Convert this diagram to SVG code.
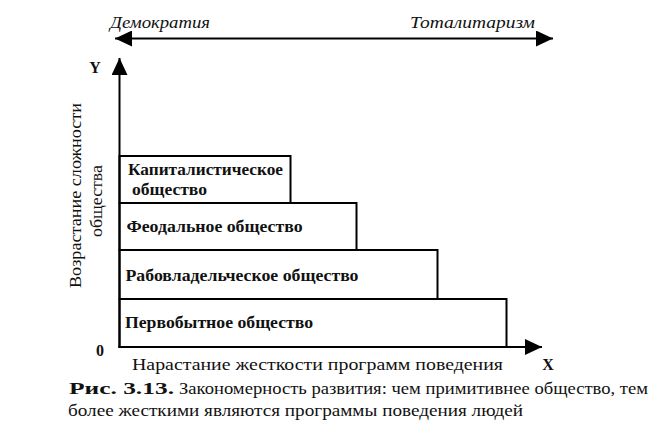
<svg xmlns="http://www.w3.org/2000/svg" width="652" height="427" viewBox="0 0 652 427">
<style>
.bg{fill:#ffffff}
.ax{stroke:#000;stroke-width:2;fill:none}
.box{fill:#ffffff;stroke:#000;stroke-width:2}
.t{font-family:"Liberation Serif","DejaVu Serif",serif;fill:#111;font-size:16px}
.b{font-weight:bold}
.i{font-style:italic}
</style>
<defs>
<marker id="ah" viewBox="0 0 10 10" refX="10" refY="5" markerUnits="userSpaceOnUse" markerWidth="17" markerHeight="16" preserveAspectRatio="none" orient="auto-start-reverse">
<path d="M0,0 L10,5 L0,10 z" fill="#000"/>
</marker>
</defs>
<rect class="bg" x="0" y="0" width="652" height="427"/>

<g id="regime-scale">
<text class="t i" x="110" y="28" textLength="100" lengthAdjust="spacingAndGlyphs">Демократия</text>
<text class="t i" x="410" y="28" textLength="125" lengthAdjust="spacingAndGlyphs">Тоталитаризм</text>
</g>

<g id="node-primitive">
<rect class="box" x="119.5" y="299" width="387" height="48"/>
<text class="t b" x="125" y="328" textLength="188" lengthAdjust="spacingAndGlyphs">Первобытное общество</text>
</g>
<g id="node-slave">
<rect class="box" x="119.5" y="250" width="318" height="49"/>
<text class="t b" x="125.5" y="281" textLength="233" lengthAdjust="spacingAndGlyphs">Рабовладельческое общество</text>
</g>
<g id="node-feudal">
<rect class="box" x="119.5" y="203" width="237" height="47"/>
<text class="t b" x="126.5" y="232" textLength="176" lengthAdjust="spacingAndGlyphs">Феодальное общество</text>
</g>
<g id="node-capitalist">
<rect class="box" x="119.5" y="156" width="171" height="47"/>
<text class="t b" x="128" y="175" textLength="155" lengthAdjust="spacingAndGlyphs">Капиталистическое</text>
<text class="t b" x="132" y="195" textLength="75" lengthAdjust="spacingAndGlyphs">общество</text>
</g>

<g id="connectors">
<line class="ax" x1="115" y1="38.5" x2="553" y2="38.5" marker-start="url(#ah)" marker-end="url(#ah)"/>
<line class="ax" x1="119.5" y1="348" x2="119.5" y2="58" marker-end="url(#ah)"/>
<line class="ax" x1="118.5" y1="347" x2="542" y2="347" marker-end="url(#ah)"/>
</g>

<g id="axis-labels">
<text class="t b" x="95" y="73" text-anchor="middle">Y</text>
<text class="t b" x="100" y="356" text-anchor="middle">0</text>
<text class="t b" x="548" y="370" text-anchor="middle">X</text>
<text class="t" transform="translate(81,195.5) rotate(-90)" x="0" y="0" text-anchor="middle" textLength="185" lengthAdjust="spacingAndGlyphs">Возрастание сложности</text>
<text class="t" transform="translate(102,201) rotate(-90)" x="0" y="0" text-anchor="middle" textLength="72" lengthAdjust="spacingAndGlyphs">общества</text>
<text class="t" x="132" y="370" textLength="371" lengthAdjust="spacingAndGlyphs">Нарастание жесткости программ поведения</text>
</g>

<g id="caption">
<text class="t b" x="69" y="394" textLength="105" lengthAdjust="spacingAndGlyphs">Рис. 3.13.</text>
<text class="t" x="179" y="394" textLength="469" lengthAdjust="spacingAndGlyphs">Закономерность развития: чем примитивнее общество, тем</text>
<text class="t" x="68" y="416" textLength="455" lengthAdjust="spacingAndGlyphs">более жесткими являются программы поведения людей</text>
</g>
</svg>
